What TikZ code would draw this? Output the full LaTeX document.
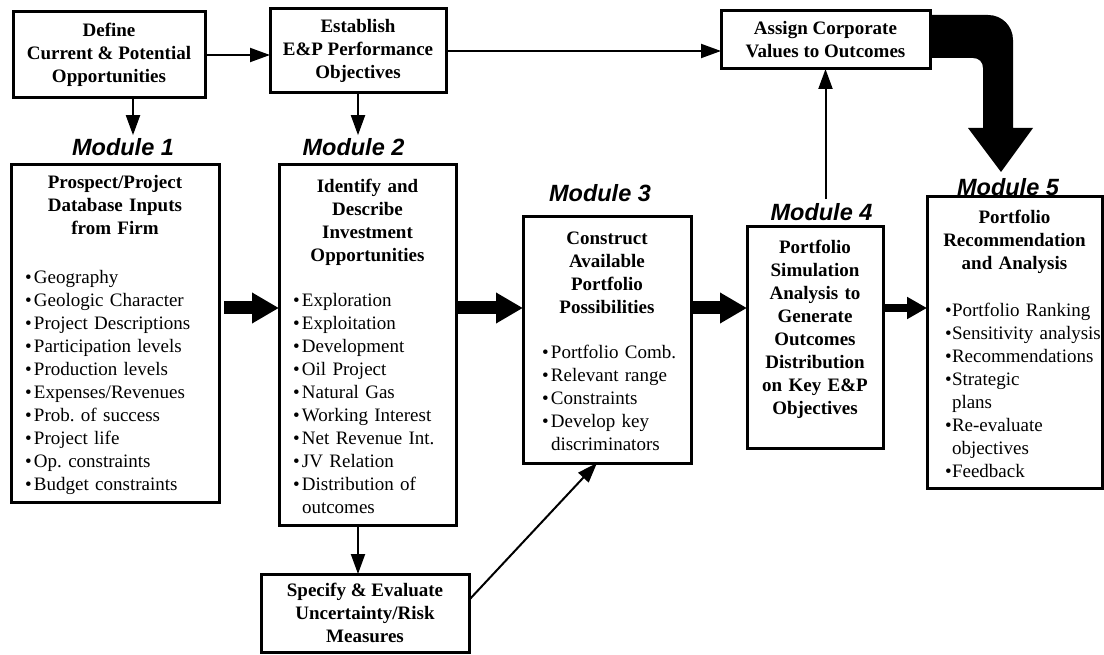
\documentclass[tikz,border=0pt]{standalone}
\usepackage{fontspec}
\setmainfont{Liberation Serif}
\newfontfamily\modfont{Liberation Sans}
\usetikzlibrary{arrows.meta}
\setlength{\parindent}{0pt}
\setlength{\parskip}{0pt}
\frenchspacing
\newlength\bulw \setlength\bulw{9pt}
% bulleted line, continuation line, centred bold heading
\newcommand\itm[1]{\mbox{\makebox[\bulw][l]{\textbullet}#1}\par}
\newcommand\cnt[1]{\mbox{\hspace*{\bulw}#1}\par}
\newcommand\hdr[1]{{\centering\makebox[\linewidth]{\bfseries\begin{tabular}[b]{@{}c@{}}#1\end{tabular}}\par}}
\tikzset{
  box/.style={draw, line width=3pt, inner sep=0pt, outer sep=0pt,
    font=\fontsize{19}{23}\selectfont},
  hbox/.style={box, align=center, font=\fontsize{19}{23}\selectfont\bfseries},
  modlbl/.style={inner sep=0pt, font=\modfont\bfseries\itshape\fontsize{23.5}{26}\selectfont},
  arr/.style={line width=2pt, -{Triangle[length=20pt,width=14pt]}},
  fatarr/.style={line width=13pt, -{Triangle[length=27pt,width=29pt]}},
}
\begin{document}
\begin{tikzpicture}[x=1pt,y=-1pt]
\useasboundingbox (0,0) rectangle (1104,655);

% top row
\node[hbox, minimum width=192pt, minimum height=86pt] (A) at (109,55)
  {Define\\Current \& Potential\\Opportunities};
\node[hbox, minimum width=176pt, minimum height=84pt] (B) at (358,51)
  {Establish\\E\&P Performance\\Objectives};
\node[hbox, minimum width=209pt, minimum height=58pt] (C) at (825.5,40)
  {Assign Corporate\\Values to Outcomes};

% module captions
\node[modlbl] (l1) at (123,147) {Module 1};
\node[modlbl] (l2) at (353.5,147) {Module 2};
\node[modlbl] (l3) at (600,193) {Module 3};
\node[modlbl] (l4) at (821.5,212) {Module 4};
\node[modlbl] (l5) at (1008,187) {Module 5};

% module boxes
\node[box, minimum width=208pt, minimum height=337pt, text width=180pt] (m1) at (115,333.5)
  {\hdr{Prospect/Project\\Database Inputs\\from Firm}\vspace{26pt}%
   \itm{Geography}\itm{Geologic Character}\itm{Project Descriptions}%
   \itm{Participation levels}\itm{Production levels}\itm{Expenses/Revenues}%
   \itm{Prob. of success}\itm{Project life}\itm{Op. constraints}\itm{Budget constraints}};
\node[box, minimum width=177pt, minimum height=360pt, text width=149pt] (m2) at (367.5,345)
  {\hdr{Identify and\\Describe\\Investment\\Opportunities}\vspace{22pt}%
   \itm{Exploration}\itm{Exploitation}\itm{Development}\itm{Oil Project}%
   \itm{Natural Gas}\itm{Working Interest}\itm{Net Revenue Int.}\itm{JV Relation}%
   \itm{Distribution of}\cnt{outcomes}};
\node[box, minimum width=168pt, minimum height=246pt, text width=130pt] (m3) at (607,340)
  {\hdr{Construct\\Available\\Portfolio\\Possibilities}\vspace{22pt}%
   \itm{Portfolio Comb.}\itm{Relevant range}\itm{Constraints}%
   \itm{Develop key}\cnt{discriminators}};
\node[box, minimum width=136pt, minimum height=221pt, text width=130pt] (m4) at (815,337.5)
  {\hdr{Portfolio\\Simulation\\Analysis to\\Generate\\Outcomes\\Distribution\\on Key E\&P\\Objectives}\mbox{}\par};
\node[box, minimum width=175pt, minimum height=291pt, text width=139pt] (m5) at (1014.5,342.5)
  {\setlength\bulw{7pt}%
   \hdr{Portfolio\\Recommendation\\and Analysis}\vspace{24pt}%
   \itm{Portfolio Ranking}\itm{Sensitivity analysis}\itm{Recommendations}%
   \itm{Strategic}\cnt{plans}\itm{Re-evaluate}\cnt{objectives}\itm{Feedback}};

% risk box
\node[hbox, minimum width=208pt, minimum height=78pt] (R) at (365,613)
  {Specify \& Evaluate\\Uncertainty/Risk\\Measures};

% thin connectors
\draw[arr] (A.east) -- (A.east -| B.west);
\draw[arr] (B.east) -- (B.east -| C.west);
\draw[arr] ([xshift=24pt]A.south) -- ([xshift=24pt,yshift=3pt]A.south |- l1.north);
\draw[arr] (B.south) -- ([yshift=3pt]B.south |- l2.north);
\draw[arr] ([xshift=-9.5pt]m2.south) -- ([xshift=-9.5pt]m2.south |- R.north);
\draw[arr] ([yshift=13pt]R.east) -- ([xshift=-10pt]m3.south);
\draw[arr] ([yshift=4pt]l4.north -| C.south) -- (C.south);

% thick flow arrows between modules
\coordinate (ay) at (0,308);
\draw[fatarr] ([xshift=5pt]m1.east |- ay) -- (m2.west |- ay);
\draw[fatarr] ([xshift=2pt]m2.east |- ay) -- (m3.west |- ay);
\draw[fatarr] ([xshift=2pt]m3.east |- ay) -- (m4.west |- ay);
\draw[line width=8pt, -{Triangle[length=20pt,width=21pt]}] ([xshift=2pt]m4.east |- ay) -- (m5.west |- ay);

% bent block arrow from the values box down to module 5
\fill (C.east |- 0,15) -- (988,15) .. controls (1002,15) and (1013,26) .. (1013,40)
  -- (1013,128) -- (1033,128) -- (1001,172) -- (968,128) -- (983,128) -- (983,68)
  .. controls (983,62) and (979,58) .. (973,58) -- (C.east |- 0,58) -- cycle;
\end{tikzpicture}
\end{document}
